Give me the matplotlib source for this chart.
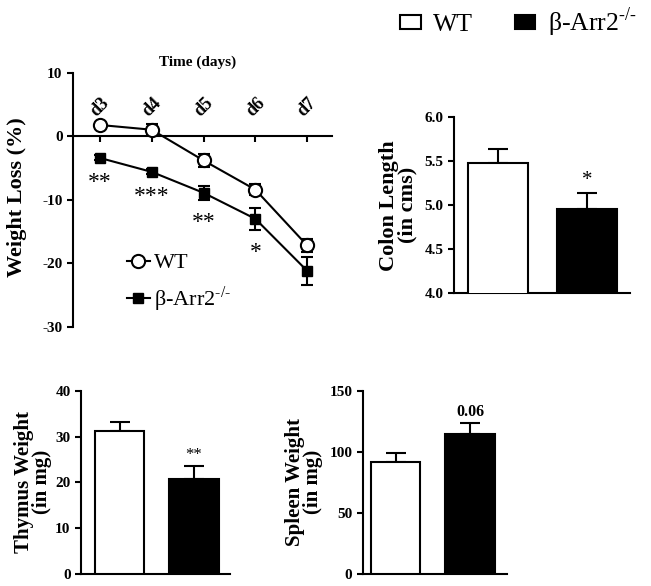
import matplotlib
matplotlib.use('Agg')
import matplotlib.pyplot as plt
import numpy as np
from matplotlib.patches import Patch
from matplotlib.lines import Line2D

plt.rcParams['font.family'] = ['Liberation Serif', 'DejaVu Serif']
plt.rcParams['mathtext.fontset'] = 'custom'
plt.rcParams['mathtext.rm'] = 'Liberation Serif'
plt.rcParams['axes.linewidth'] = 1.5
plt.rcParams['axes.unicode_minus'] = False

# weight loss over time
days = ['d3', 'd4', 'd5', 'd6', 'd7']
wt_loss = [1.8, 1.05, -3.8, -8.4, -17.2]
wt_loss_err = [0.3, 0.9, 1.05, 0.9, 1.05]
ko_loss = [-3.4, -5.6, -8.9, -13.0, -21.2]
ko_loss_err = [0.4, 0.4, 1.1, 1.75, 2.2]
loss_stars = ['**', '***', '**', '*', '']

# organ measurements (WT, KO)
groups = ['WT', 'β-Arr2$^{\u2010/\u2010}$']
colon = [5.48, 4.96]
colon_err = [0.16, 0.18]
thymus = [31.3, 20.8]
thymus_err = [1.9, 2.8]
spleen = [91.4, 114.3]
spleen_err = [7.6, 9.0]

fig = plt.figure(figsize=(6.51, 5.86), dpi=100)

# ---- weight loss panel
ax1 = fig.add_axes([0.1121, 0.4425, 0.398, 0.433])
x = np.arange(len(days))
ax1.errorbar(x, wt_loss, yerr=wt_loss_err, marker='o', mfc='white', mec='black',
             mew=1.5, ms=9.5, color='black', lw=1.5, elinewidth=1.5,
             capsize=4.5, capthick=1.5, zorder=4)
ax1.errorbar(x, ko_loss, yerr=ko_loss_err, marker='s', mfc='black', mec='black',
             ms=7.5, color='black', lw=1.5, elinewidth=1.5,
             capsize=4.5, capthick=1.5, zorder=3)
for i, s in enumerate(loss_stars):
    if s:
        ax1.annotate(s, (x[i], ko_loss[i] - ko_loss_err[i]), xytext=(0, -16),
                     textcoords='offset points', ha='center', va='center',
                     fontsize=17)

ax1.set_xlim(-0.52, 4.48)
ax1.set_ylim(-30, 10)
ax1.set_yticks([-30, -20, -10, 0, 10])
ax1.spines['right'].set_visible(False)
ax1.spines['bottom'].set_position(('data', 0))
ax1.spines['top'].set_position(('data', 0))
ax1.spines['top'].set_visible(False)
ax1.set_xticks(x)
ax1.set_xticklabels(days, rotation=45, fontweight='bold', fontsize=13)
ax1.tick_params(axis='x', bottom=True, top=False, labelbottom=False,
                labeltop=True, pad=8, direction='out', length=4, width=1.5)
ax1.tick_params(axis='y', direction='out', length=4, width=1.5, labelsize=11)
for lab in ax1.get_yticklabels():
    lab.set_fontweight('bold')
ax1.set_ylabel('Weight Loss (%)', fontsize=16, fontweight='bold')
ax1.yaxis.set_label_coords(-0.178, 0.511)
ax1.text(0.48, 1.043, 'Time (days)', transform=ax1.transAxes, ha='center',
         va='center', fontsize=11, fontweight='bold')

h_wt = Line2D([], [], color='black', lw=1.5, marker='o', mfc='white',
              mec='black', mew=1.5, ms=9.5)
h_ko = Line2D([], [], color='black', lw=1.5, marker='s', mfc='black', ms=7.5)
ax1.legend([h_wt, h_ko], groups, loc='center left', bbox_to_anchor=(0.21, 0.17),
           frameon=False, fontsize=16, handlelength=1.0, handletextpad=0.2,
           borderpad=0, borderaxespad=0, labelspacing=0.5)


def bar_panel(rect, vals, errs, sig, ylim, yticks, ylabel, xlim, fmt, sig_kw,
              label_size):
    ax = fig.add_axes(rect)
    bx = np.arange(len(vals))
    ax.bar(bx, vals, width=0.67, color=['white', 'black'], edgecolor='black',
           linewidth=1.5, zorder=3)
    ax.errorbar(bx, vals, yerr=[[0] * len(errs), errs], fmt='none', ecolor='black',
                elinewidth=1.5, capsize=7, capthick=1.5, zorder=2)
    ax.annotate(sig, (bx[1], vals[1] + errs[1]), textcoords='offset points',
                ha='center', va='center', **sig_kw)
    ax.set_xlim(*xlim)
    ax.set_ylim(*ylim)
    ax.set_yticks(yticks)
    ax.set_yticklabels([fmt % t for t in yticks], fontweight='bold', fontsize=11)
    ax.set_xticks([])
    ax.spines['right'].set_visible(False)
    ax.spines['top'].set_visible(False)
    ax.tick_params(axis='y', direction='out', length=4, width=1.5)
    ax.set_ylabel(ylabel, fontsize=label_size, fontweight='bold', linespacing=0.85)
    return ax


ax2 = bar_panel([0.6974, 0.4995, 0.2704, 0.3003], colon, colon_err, '*',
                (4.0, 6.0), [4.0, 4.5, 5.0, 5.5, 6.0], 'Colon Length\n(in cms)',
                (-0.494, 1.483), '%.1f', dict(xytext=(0, 9), fontsize=15), 16)
ax2.yaxis.set_label_coords(-0.21, 0.5)

ax3 = bar_panel([0.1244, 0.0205, 0.2289, 0.3128], thymus, thymus_err, '**',
                (0, 40), [0, 10, 20, 30, 40], 'Thymus Weight\n(in mg)',
                (-0.52, 1.49), '%d', dict(xytext=(0, 8), fontsize=12), 15)
ax3.yaxis.set_label_coords(-0.195, 0.5)

ax4 = bar_panel([0.5571, 0.0205, 0.2212, 0.3128], spleen, spleen_err, '0.06',
                (0, 150), [0, 50, 100, 150], 'Spleen Weight\n(in mg)',
                (-0.44, 1.49), '%d', dict(xytext=(0, 8.5), fontsize=11.5,
                                          fontweight='bold'), 15)
ax4.yaxis.set_label_coords(-0.276, 0.5)

fig.legend([Patch(facecolor='white', edgecolor='black', linewidth=1.5),
            Patch(facecolor='black', edgecolor='black', linewidth=1.5)],
           groups, loc='center left', bbox_to_anchor=(400 / 651, 0.962), ncol=2,
           frameon=False, fontsize=18.5, handlelength=0.8, handleheight=0.45,
           handletextpad=0.5, columnspacing=1.6, borderpad=0, borderaxespad=0)

fig.savefig('out.png', dpi=100)
